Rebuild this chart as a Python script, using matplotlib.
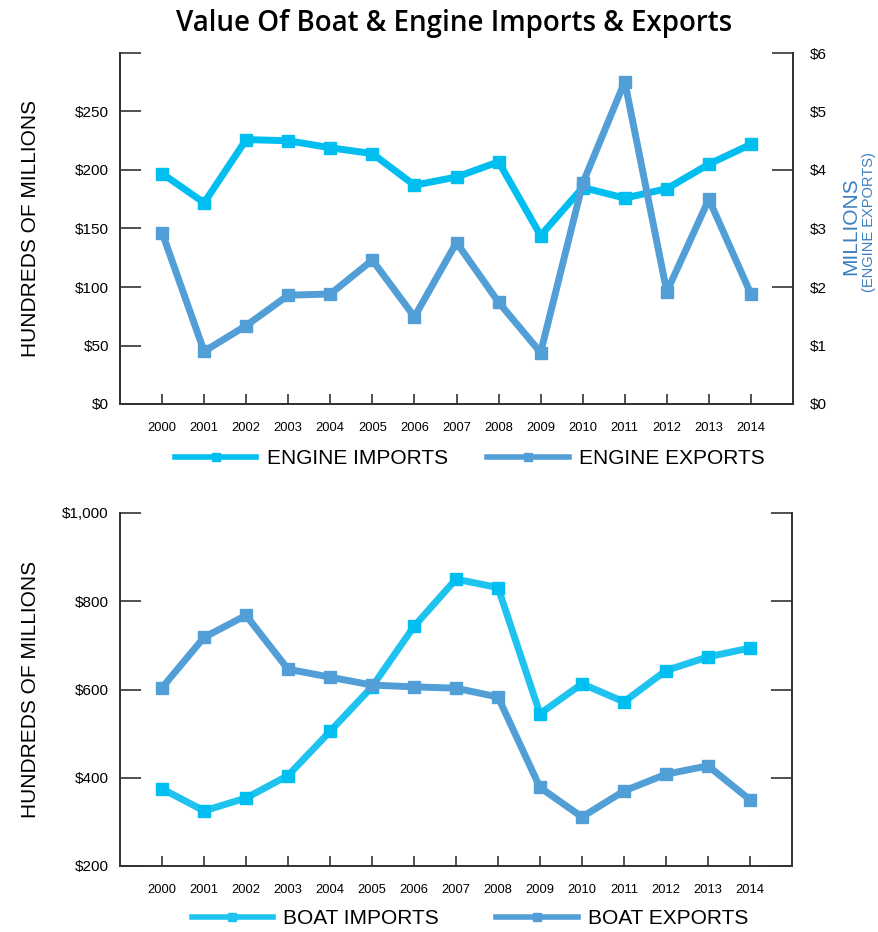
import numpy as np
import matplotlib.pyplot as plt
from matplotlib.lines import Line2D

years = list(range(2000, 2015))

engine_imports = [197, 172, 226, 225, 219, 214, 187, 194, 207, 144, 185, 176, 184, 205, 222]
engine_exports = [2.93, 0.90, 1.34, 1.86, 1.88, 2.46, 1.49, 2.76, 1.74, 0.88, 3.77, 5.51, 1.92, 3.50, 1.88]

boat_imports = [375, 325, 354, 405, 505, 606, 743, 850, 831, 545, 613, 572, 643, 674, 694]
boat_exports = [604, 718, 768, 646, 628, 610, 606, 603, 583, 378, 311, 370, 408, 427, 350]

top_left_ticks = [0, 50, 100, 150, 200, 250, 300]
top_left_labels = ['$0', '$50', '$100', '$150', '$200', '$250', '']
top_right_major = [0, 2, 4, 6]
top_right_minor = [1, 3, 5]
bottom_ticks = [200, 400, 600, 800, 1000]
bottom_labels = ['$200', '$400', '$600', '$800', '$1,000']

CYAN = '#00bef0'
CYAN2 = '#1fc3f0'
BLUE = '#529fd7'
LABEL_BLUE = '#3c7fc0'
AXC = '#333333'
SANS = ['Liberation Sans', 'DejaVu Sans']

plt.rcParams['font.family'] = SANS

fig = plt.figure(figsize=(8.79, 9.32), dpi=100)

ax1 = fig.add_axes([120 / 879, 1 - 404 / 932, 673 / 879, 351 / 932])
ax2 = fig.add_axes([120 / 879, 1 - 866 / 932, 672 / 879, 353 / 932])


def style_axes(ax):
    for s in ['left', 'right', 'bottom']:
        ax.spines[s].set_color(AXC)
        ax.spines[s].set_linewidth(1.4)
    ax.spines['top'].set_visible(False)
    ax.set_xlim(1999, 2015)
    ax.set_xticks(years)
    ax.set_xticklabels([str(y) for y in years], fontsize=9.3)
    ax.tick_params(axis='x', direction='in', length=7, width=1.2, color=AXC, pad=13)
    ax.tick_params(axis='y', direction='in', length=15, width=1.2, color=AXC, pad=8, labelsize=11)


# top chart
style_axes(ax1)
ax1.set_ylim(0, 300)
ax1.set_yticks(top_left_ticks)
ax1.set_yticklabels(top_left_labels)
ax1.set_ylabel('HUNDREDS OF MILLIONS', fontsize=15)
ax1.yaxis.set_label_coords(-80 / 673, 0.5)

ax1r = ax1.twinx()
for s in ['left', 'right', 'bottom']:
    ax1r.spines[s].set_color(AXC)
    ax1r.spines[s].set_linewidth(1.4)
ax1r.spines['top'].set_visible(False)
ax1r.set_ylim(0, 6)
ax1r.set_yticks(top_right_major)
ax1r.set_yticklabels(['$%d' % v for v in top_right_major])
ax1r.set_yticks(top_right_minor, minor=True)
ax1r.set_yticklabels(['$%d' % v for v in top_right_minor], minor=True)
ax1r.tick_params(axis='y', which='major', direction='in', length=15, width=1.2, color=AXC, pad=12, labelsize=11)
ax1r.tick_params(axis='y', which='minor', direction='in', length=0, pad=12, labelsize=11)

ax1.plot(years, engine_imports, color=CYAN, lw=5, marker='s', ms=9, zorder=3)
ax1r.plot(years, engine_exports, color=BLUE, lw=5, marker='s', ms=9, zorder=3)

fig.text(851 / 879, 1 - 226 / 932, 'MILLIONS', rotation=90, color=LABEL_BLUE,
         fontsize=15, ha='center', va='center')
fig.text(869 / 879, 1 - 222 / 932, '(ENGINE EXPORTS)', rotation=90, color=LABEL_BLUE,
         fontsize=10.5, ha='center', va='center')

h1 = [Line2D([], [], color=CYAN, lw=4, marker='s', ms=6),
      Line2D([], [], color=BLUE, lw=4, marker='s', ms=6)]
fig.legend(h1, ['ENGINE IMPORTS', 'ENGINE EXPORTS'], loc='center',
           bbox_to_anchor=(470 / 879, 1 - 459 / 932), ncol=2, frameon=False,
           fontsize=15, handlelength=3.9, columnspacing=1.9, handletextpad=0.5)

# bottom chart
style_axes(ax2)
ax2.set_ylim(200, 1000)
ax2.set_yticks(bottom_ticks)
ax2.set_yticklabels(bottom_labels)
ax2.tick_params(axis='y', right=True)
ax2.set_ylabel('HUNDREDS OF MILLIONS', fontsize=15)
ax2.yaxis.set_label_coords(-80 / 672, 0.5)

ax2.plot(years, boat_imports, color=CYAN2, lw=5, marker='s', ms=9,
         mfc=CYAN, mec=CYAN, zorder=3)
ax2.plot(years, boat_exports, color=BLUE, lw=5, marker='s', ms=9, zorder=3)

h2 = [Line2D([], [], color=CYAN2, lw=4, marker='s', ms=6),
      Line2D([], [], color=BLUE, lw=4, marker='s', ms=6)]
fig.legend(h2, ['BOAT IMPORTS', 'BOAT EXPORTS'], loc='center',
           bbox_to_anchor=(470 / 879, 1 - 919 / 932), ncol=2, frameon=False,
           fontsize=15, handlelength=3.9, columnspacing=2.75, handletextpad=0.5)

fig.text(454 / 879, 1 - 23 / 932, 'Value Of Boat & Engine Imports & Exports',
         family=['Open Sans', 'DejaVu Sans'], fontsize=20, fontweight='semibold',
         ha='center', va='center')

fig.savefig('out.png', dpi=100)
